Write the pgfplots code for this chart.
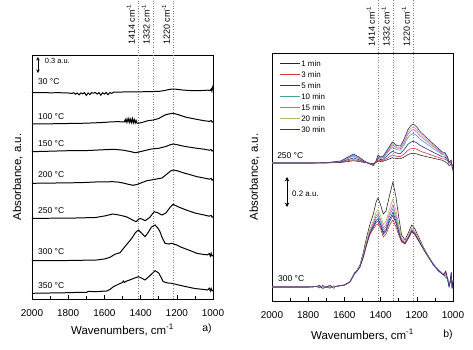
\documentclass[border=0pt]{standalone}
\usepackage{fontspec}
\setmainfont{Liberation Sans}
\usepackage{pgfplots}
\usepackage{pgfplotstable}
\pgfplotsset{compat=1.18}
\usetikzlibrary{arrows.meta}

\definecolor{c1}{HTML}{2B2B2B}
\definecolor{c3}{HTML}{D03A3A}
\definecolor{c5}{HTML}{2A2E8C}
\definecolor{c10}{HTML}{3FA6A0}
\definecolor{c15}{HTML}{E050C8}
\definecolor{c20}{HTML}{B5B56A}
\definecolor{c30}{HTML}{3A2A80}

\pgfplotstableread{
wn    m1    m3    m5    m10   m15   m20   m30
2000  187   187   187   187   187   187   187
1900  187   187   187   187   187   187   187
1800  187   187   187   187   187   187   187
1700  187.1 187.1 187.2 187.2 187.3 187.3 187.3
1620  187.5 187.8 188.1 188.5 188.7 188.9 189
1580  188.5 189.3 190.4 191.6 192.2 192.6 193
1550  189.3 190.4 192   193.8 194.7 195.4 196
1520  188.5 189.3 190.4 191.6 192.2 192.6 193
1490  187.5 187.8 188.1 188.5 188.7 188.9 189
1460  186.7 186.6 186.4 186.2 186.1 186.1 186
1440  186.4 186   185.6 185.1 184.8 184.7 184.5
1425  187.5 187.8 188.1 188.5 188.7 188.9 189
1414  189   190   191.5 193.1 193.9 194.4 195
1400  188.5 189.3 190.4 191.6 192.2 192.6 193
1385  188.8 189.7 190.9 192.3 193   193.5 194
1360  190.5 192.3 194.8 197.6 199   200   201
1335  192.3 195   198.8 203   205.1 206.5 208
1310  191.5 193.6 196.8 200.3 202   203.2 204.5
1290  191.3 193.4 196.5 199.8 201.5 202.6 204
1270  193   196.1 200.4 205.2 207.6 209.3 211
1250  195.3 199.5 205.5 212.1 215.4 217.7 220
1235  196.3 201.1 207.7 215.1 218.8 221.4 224
1220  196.8 201.8 208.8 216.6 220.5 223.3 226
1200  196   200.7 207.2 214.4 218   220.5 223
1180  194.8 198.8 204.4 210.6 213.7 215.8 218
1150  193.5 196.9 201.6 206.8 209.4 211.2 213
1120  192.3 195   198.8 203   205.1 206.5 208
1090  191   193.1 196   199.2 200.8 201.9 203
1060  189.8 191.2 193.2 195.4 196.5 197.2 198
1045  188.5 191   193   195   196   196.5 197.5
1030  186.5 189.3 190.4 191.6 192.2 192.6 193
1022  184.5 186.5 187   187.5 187.5 187.5 188
1015  185   187.8 188.1 188.5 188.7 188.9 189
1010  186.5 188   188   188.5 189   189   190
1005  184   185.5 184.8 184   183.6 183.3 183
1000  183   184   182.5 180.9 180.1 179.6 179
}\tabA

\pgfplotstableread{
wn    m1    m3    m5    m10   m15   m20   m30
2000  63    63    63    63    63    63    63
1900  63    63    63    63    63    63    63
1800  63    63    63    63    63    63    63
1750  63.5  63.5  63.5  63.5  63.5  63.5  63.5
1740  63.3  63.3  62    63.3  63.3  63.3  65
1720  63.2  63.2  64.5  63.2  63.2  63.2  61.5
1700  63    63    63    63    63    63    63
1680  63.3  63.3  61.8  63.3  63.3  63.3  64.8
1660  63.4  63.4  64    63.4  63.4  63.4  61.8
1650  63.5  63.5  63.5  63.5  63.5  63.5  63.5
1600  65    65    65    65    65    65    65
1570  68    68    68    68    68    68    68
1545  77    76    76.2  76.3  76.4  76.6  76.1
1530  80    79    79.2  79.3  79.4  79.6  79.1
1514  85    83    83.4  83.6  83.8  84.1  83.2
1495  98    93    94    94.5  95    95.8  93.6
1477  113   105   106.6 107.4 108.2 109.4 106
1460  125   115   117   118   119   120.5 116.2
1440  136   121   124   125.5 127   129.3 122.8
1425  148   125   129.6 131.9 134.2 137.7 127.8
1414  152   126   131.2 133.8 136.4 140.3 128.8
1400  145   121   125.8 128.2 130.6 134.2 123.8
1385  136   113   117.6 119.9 122.2 125.7 115.8
1370  139   116   120.6 122.9 125.2 128.7 118.8
1350  155   125   131   134   137   141.5 128.6
1332  168   130   137.6 141.4 145.2 150.9 134.6
1315  153   123   129   132   135   139.5 126.6
1300  133   115   118.6 120.4 122.2 124.9 117.2
1284  115   108   109.4 110.1 110.8 111.9 108.8
1265  110   106   106.8 107.2 107.6 108.2 106.5
1245  118   112   113.2 113.8 114.4 115.3 112.7
1228  125   118   119.4 120.1 120.8 121.9 118.8
1210  121   115   116.2 116.8 117.4 118.3 115.7
1190  113   109   109.8 110.2 110.6 111.2 109.5
1164  103   101   101.4 101.6 101.8 102.1 101.2
1140  95    94    94.2  94.3  94.4  94.6  94.1
1108  86    85    85.2  85.3  85.4  85.6  85.1
1080  80    79    79.2  79.3  79.4  79.6  79.1
1053  76    75    75.2  75.3  75.4  75.6  75.1
1040  76    74    78    72    75    77    79
1030  71    71    71    71    71    71    71
1022  66    68    64    69    66    67    63
1015  68    68    68    68    68    68    68
1010  74    72    77    70    73    71    78
1005  65    67    62    68    66    64    61
1000  70    69    69.2  69.3  69.4  69.6  69.1
}\tabB

\tikzset{
  peakline/.style={gray, dotted, line width=0.6pt},
  peaklab/.style={rotate=90, anchor=south west, inner sep=0pt, font=\fontsize{9}{10}\selectfont},
  tlab/.style={anchor=west, inner sep=0pt, font=\fontsize{8.5}{10}\selectfont},
}

\pgfplotsset{
  base/.style={
    scale only axis, width=181bp,
    xmin=1000, xmax=2000, x dir=reverse,
    xtick={1000,1200,...,2000}, minor x tick num=1,
    ytick=\empty, tick align=inside, xtick pos=left,
    major tick length=4bp, minor tick length=2.5bp,
    every tick/.style={black, line width=0.6pt},
    axis line style={line width=0.8pt},
    xticklabel style={font=\fontsize{10}{12}\selectfont, yshift=-7bp},
    /pgf/number format/assume math mode=true,
    /pgf/number format/1000 sep={},
    xlabel={Wavenumbers, cm\textsuperscript{-1}},
    ylabel={Absorbance, a.u.},
    label style={font=\fontsize{11.5}{13}\selectfont},
    clip=false,
  },
  lcurve/.style={black, line width=1pt},
  rcurve/.style={line width=0.6pt},
}

\begin{document}
\begin{tikzpicture}
\path[use as bounding box] (0,0) rectangle (473bp,350bp);

% ---------------- panel a ----------------
\begin{axis}[base, at={(32bp,51bp)}, anchor=south west, height=244bp,
  ymin=51, ymax=295,
  xlabel style={at={(axis description cs:0.5,-0.09)}, anchor=north},
  ylabel style={at={(axis description cs:-0.033,0.5)}, anchor=south}]

\pgfplotsinvokeforeach{1414,1332,1220}{
  \draw[peakline] (axis cs:#1,51) -- (axis cs:#1,350);
  \node[peaklab] at ([xshift=-3bp]axis cs:#1,305) {#1 cm\textsuperscript{-1}};
}

\addplot[lcurve] coordinates {(2000,257.3)(1950,257.5)(1900,257.2)(1850,257.3)(1800,257.0)(1780,256.6)(1770,257.3)(1760,255.8)(1750,257.0)(1740,255.2)(1730,257.1)(1720,256.2)(1710,257.4)(1700,254.6)(1690,257.0)(1680,255.5)(1670,257.3)(1660,256.8)(1650,257.5)(1640,256.0)(1630,257.4)(1620,254.8)(1610,257.2)(1600,256.0)(1590,257.5)(1580,255.3)(1570,257.4)(1560,256.5)(1550,257.8)(1500,258.0)(1450,258.1)(1400,258.2)(1350,258.4)(1300,258.6)(1270,259.4)(1240,260.6)(1220,261.0)(1200,260.7)(1170,260.0)(1130,259.5)(1100,259.4)(1060,259.5)(1030,259.8)(1015,259.6)(1010,261.0)(1006,258.8)(1003,262.5)(1000,260.5)};

\addplot[lcurve] coordinates {(2000,226.0)(1900,226.2)(1800,226.5)(1700,226.8)(1600,227.6)(1560,228.2)(1520,228.3)(1490,228.0)(1485,230.5)(1480,227.8)(1475,231.2)(1470,228.0)(1465,231.5)(1460,227.6)(1455,230.8)(1450,227.5)(1445,231.3)(1440,227.2)(1435,230.4)(1430,227.0)(1425,229.6)(1420,226.8)(1414,226.7)(1390,227.6)(1360,229.3)(1330,230.0)(1300,231.5)(1280,233.5)(1260,235.3)(1240,236.2)(1220,236.7)(1190,235.2)(1150,232.8)(1100,231.0)(1050,229.3)(1020,228.6)(1010,229.4)(1005,227.8)(1000,228.2)};

\addplot[lcurve] coordinates {(2000,198.3)(1900,198.8)(1800,199.3)(1700,199.4)(1600,200.3)(1550,200.7)(1500,199.9)(1460,198.6)(1430,197.3)(1414,197.8)(1380,199.3)(1340,201.0)(1300,201.7)(1260,203.5)(1240,205.0)(1220,206.0)(1200,205.4)(1170,204.1)(1150,203.4)(1100,202.0)(1050,200.8)(1020,199.8)(1010,200.4)(1005,198.9)(1000,199.4)};

\addplot[lcurve] coordinates {(2000,166.7)(1900,166.9)(1800,167.2)(1735,167.3)(1650,168.0)(1553,168.3)(1520,167.8)(1497,167.0)(1470,165.8)(1442,164.7)(1420,165.5)(1403,166.7)(1365,169.3)(1320,170.7)(1282,172.0)(1254,176.0)(1235,179.0)(1221,180.0)(1200,179.4)(1166,177.3)(1130,175.5)(1088,173.3)(1050,172.0)(1020,170.8)(1010,171.6)(1005,169.8)(1000,170.4)};

\addplot[lcurve] coordinates {(2000,131.7)(1800,131.8)(1650,132.5)(1600,134.0)(1553,136.0)(1520,135.0)(1480,133.3)(1455,131.0)(1440,129.6)(1425,128.3)(1410,130.8)(1400,131.5)(1375,129.3)(1350,132.5)(1325,138.3)(1305,137.2)(1282,135.0)(1260,137.0)(1240,142.0)(1221,145.7)(1190,143.0)(1148,140.0)(1100,137.0)(1050,135.0)(1020,133.8)(1010,134.6)(1005,132.8)(1000,133.3)};

\addplot[lcurve] coordinates {(2000,89.3)(1800,89.5)(1700,89.8)(1643,90.0)(1600,91.0)(1569,92.7)(1542,95.7)(1514,97.3)(1487,103.3)(1470,107.0)(1449,111.7)(1430,117.0)(1413,120.0)(1395,117.0)(1376,113.3)(1360,117.0)(1340,123.0)(1320,125.0)(1305,122.0)(1293,118.3)(1280,112.0)(1265,106.7)(1245,106.0)(1228,106.7)(1200,105.0)(1182,103.3)(1150,101.0)(1120,99.0)(1090,96.7)(1050,95.5)(1030,95.2)(1020,96.5)(1015,93.8)(1010,96.8)(1005,94.0)(1000,94.5)};

\addplot[lcurve] coordinates {(2000,56.7)(1800,57.3)(1735,57.7)(1700,57.5)(1690,58.6)(1650,58.3)(1587,59.0)(1570,60.5)(1550,63.3)(1520,66.0)(1500,67.5)(1495,69.0)(1490,67.6)(1477,69.0)(1460,70.0)(1440,71.5)(1413,73.3)(1395,72.0)(1376,70.0)(1350,74.0)(1320,79.3)(1300,77.0)(1285,72.0)(1275,68.3)(1250,67.0)(1228,66.7)(1190,65.0)(1148,63.3)(1100,61.5)(1050,60.5)(1030,60.0)(1020,61.8)(1015,59.0)(1010,61.5)(1005,59.2)(1000,59.6)};

\node[tlab] at (axis cs:1967,268) {30 °C};
\node[tlab] at (axis cs:1967,233) {100 °C};
\node[tlab] at (axis cs:1967,206) {150 °C};
\node[tlab] at (axis cs:1967,175) {200 °C};
\node[tlab] at (axis cs:1967,139) {250 °C};
\node[tlab] at (axis cs:1967,98) {300 °C};
\node[tlab] at (axis cs:1967,64) {350 °C};

\draw[{Stealth[length=3.5bp,width=3.5bp]}-{Stealth[length=3.5bp,width=3.5bp]}, line width=0.6pt] (axis cs:1967,293) -- (axis cs:1967,277);
\node[anchor=west, inner sep=0pt, font=\fontsize{7.5}{9}\selectfont] at (axis cs:1930,289) {0.3 a.u.};
\end{axis}

% ---------------- panel b ----------------
\begin{axis}[base, at={(272bp,49bp)}, anchor=south west, height=248bp,
  ymin=49, ymax=297,
  xlabel style={at={(axis description cs:0.5,-0.1)}, anchor=north},
  ylabel style={at={(axis description cs:-0.05,0.5)}, anchor=south},
  legend style={at={(axis cs:1961,291)}, anchor=north west, draw=none, fill=none,
    inner sep=0pt, font=\fontsize{8}{9}\selectfont, row sep=1.5bp,
    nodes={inner sep=1pt, text height=6bp, text depth=1.5bp}},
  legend cell align=left,
  legend image code/.code={\draw[#1, line width=1pt] (0bp,0bp) -- (20bp,0bp);}]

\pgfplotsinvokeforeach{1414,1332,1220}{
  \draw[peakline] (axis cs:#1,49) -- (axis cs:#1,350);
  \node[peaklab] at ([xshift=-3bp]axis cs:#1,303) {#1 cm\textsuperscript{-1}};
}

\addplot[rcurve, c1]  table[x=wn, y=m1]  {\tabA};
\addplot[rcurve, c3]  table[x=wn, y=m3]  {\tabA};
\addplot[rcurve, c5]  table[x=wn, y=m5]  {\tabA};
\addplot[rcurve, c10] table[x=wn, y=m10] {\tabA};
\addplot[rcurve, c15] table[x=wn, y=m15] {\tabA};
\addplot[rcurve, c20] table[x=wn, y=m20] {\tabA};
\addplot[rcurve, c30] table[x=wn, y=m30] {\tabA};
\legend{1 min, 3 min, 5 min, 10 min, 15 min, 20 min, 30 min}

\addplot[rcurve, c1, forget plot]  table[x=wn, y=m1]  {\tabB};
\addplot[rcurve, c3, forget plot]  table[x=wn, y=m3]  {\tabB};
\addplot[rcurve, c5, forget plot]  table[x=wn, y=m5]  {\tabB};
\addplot[rcurve, c10, forget plot] table[x=wn, y=m10] {\tabB};
\addplot[rcurve, c15, forget plot] table[x=wn, y=m15] {\tabB};
\addplot[rcurve, c20, forget plot] table[x=wn, y=m20] {\tabB};
\addplot[rcurve, c30, forget plot] table[x=wn, y=m30] {\tabB};

\node[tlab] at (axis cs:1972,194) {250 °C};
\node[tlab] at (axis cs:1967,71) {300 °C};

\draw[{Stealth[length=4.5bp,width=4.5bp]}-{Stealth[length=4.5bp,width=4.5bp]}, line width=1pt] (axis cs:1917,173) -- (axis cs:1917,143);
\node[anchor=west, inner sep=0pt, font=\fontsize{8}{9}\selectfont] at (axis cs:1890,156) {0.2 a.u.};
\end{axis}

\node[font=\fontsize{10.5}{12}\selectfont] at (207bp,21bp) {a)};
\node[font=\fontsize{10.5}{12}\selectfont] at (448bp,15bp) {b)};
\end{tikzpicture}
\end{document}
